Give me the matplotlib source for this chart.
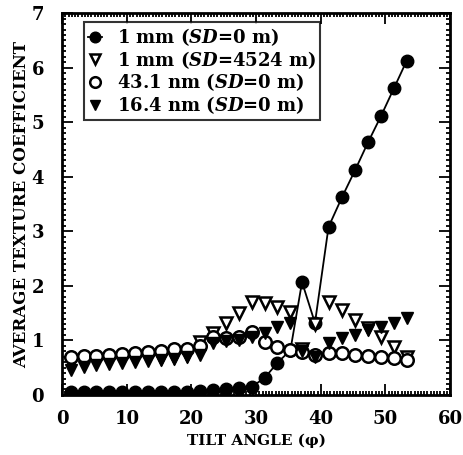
import matplotlib
matplotlib.use("Agg")
import matplotlib.pyplot as plt
from matplotlib.ticker import MultipleLocator

# tilt angles (deg)
tilt = [1.3, 3.3, 5.3, 7.3, 9.3, 11.3, 13.3, 15.3, 17.3, 19.3, 21.3, 23.3, 25.3, 27.3,
        29.3, 31.3, 33.3, 35.3, 37.1, 39.1, 41.2, 43.3, 45.3, 47.3, 49.3, 51.3, 53.3]

mm1_sd0 = [0.06, 0.05, 0.05, 0.05, 0.05, 0.05, 0.05, 0.05, 0.05, 0.06, 0.07, 0.09, 0.10, 0.13,
           0.15, 0.31, 0.59, 0.82, 2.07, 1.32, 3.08, 3.63, 4.12, 4.63, 5.11, 5.62, 6.13]
mm1_sd4524 = [0.58, 0.60, 0.62, 0.63, 0.64, 0.66, 0.67, 0.68, 0.70, 0.73, 0.97, 1.13, 1.32, 1.50,
              1.70, 1.68, 1.61, 1.52, 0.85, 1.30, 1.70, 1.56, 1.37, 1.23, 1.07, 0.88, 0.70]
nm43 = [0.70, 0.71, 0.72, 0.74, 0.75, 0.77, 0.78, 0.80, 0.84, 0.85, 0.90, 1.06, 1.04, 1.06,
        1.15, 0.97, 0.88, 0.82, 0.79, 0.74, 0.77, 0.77, 0.74, 0.72, 0.70, 0.68, 0.64]
nm16 = [0.45, 0.52, 0.55, 0.57, 0.59, 0.61, 0.63, 0.64, 0.66, 0.70, 0.73, 0.95, 0.99, 1.00,
        1.06, 1.13, 1.25, 1.32, 0.80, 0.70, 0.95, 1.04, 1.10, 1.19, 1.25, 1.32, 1.41]

labels = ["1 mm ($\\it{SD}$=0 m)", "1 mm ($\\it{SD}$=4524 m)",
          "43.1 nm ($\\it{SD}$=0 m)", "16.4 nm ($\\it{SD}$=0 m)"]

plt.rcParams['mathtext.fontset'] = 'custom'
plt.rcParams['mathtext.it'] = 'DejaVu Serif:bold:italic'
plt.rcParams['mathtext.rm'] = 'DejaVu Serif:bold'

fig = plt.figure(figsize=(4.64, 4.55), dpi=100)
ax = fig.add_axes([0.134, 0.132, 0.836, 0.839])

ms = 9
ax.plot(tilt, mm1_sd0, '-o', color='black', lw=1.3, ms=ms, mfc='black', mec='black', label=labels[0])
ax.plot(tilt, mm1_sd4524, 'v', ms=ms, mfc='white', mec='black', mew=1.8, label=labels[1])
ax.plot(tilt, nm43, 'o', ms=ms, mfc='white', mec='black', mew=1.8, label=labels[2])
ax.plot(tilt, nm16, 'v', ms=ms, mfc='black', mec='black', label=labels[3])

ax.set_xlim(0, 60)
ax.set_ylim(0, 7)
ax.xaxis.set_major_locator(MultipleLocator(10))
ax.xaxis.set_minor_locator(MultipleLocator(0.5))
ax.yaxis.set_major_locator(MultipleLocator(1))
ax.yaxis.set_minor_locator(MultipleLocator(0.1))
ax.tick_params(which='both', direction='in', top=True, right=True, width=1.3)
ax.tick_params(which='major', length=8)
ax.tick_params(axis='x', which='major', pad=11)
ax.tick_params(axis='y', which='major', pad=13)
ax.tick_params(which='minor', length=3)
for s in ax.spines.values():
    s.set_linewidth(2)

for t in ax.get_xticklabels() + ax.get_yticklabels():
    t.set_fontfamily('DejaVu Serif')
    t.set_fontweight('bold')
    t.set_fontsize(13)

ax.set_xlabel("TILT ANGLE (φ)", family='DejaVu Serif', weight='bold', fontsize=11, labelpad=4)
ax.set_ylabel("AVERAGE TEXTURE COEFFICIENT", family='DejaVu Serif', weight='bold', fontsize=12, labelpad=1)

leg = ax.legend(loc='upper left', bbox_to_anchor=(0.057, 0.976),
                prop={'family': 'DejaVu Serif', 'weight': 'bold', 'size': 13},
                frameon=True, fancybox=False, edgecolor='black', handlelength=0.8, markerscale=0.85,
                handletextpad=0.8, borderpad=0.2, labelspacing=0.05, borderaxespad=0)
leg.get_frame().set_linewidth(1.5)

fig.savefig("out.png", dpi=100)
